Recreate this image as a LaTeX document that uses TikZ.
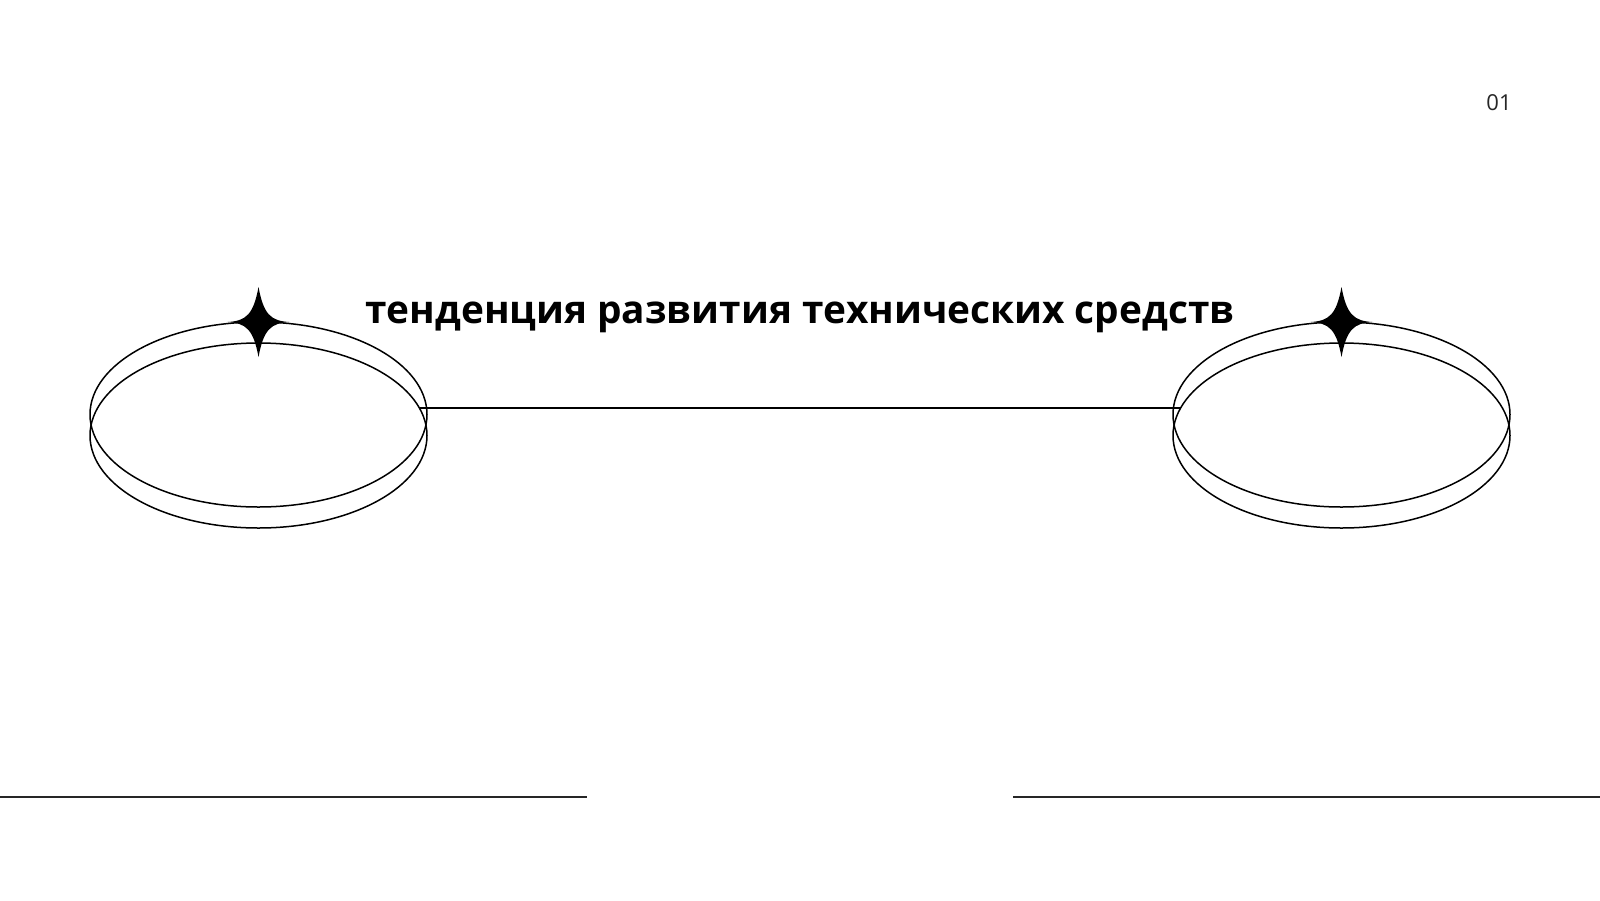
\documentclass[tikz,border=0pt]{standalone}
\usepackage{fontspec}
\setmainfont{Open Sans}
\begin{document}
\begin{tikzpicture}[x=1pt,y=-1pt,
  ring/.style={draw=black,line width=1.5pt},
  rule/.style={draw=black!85,line width=1.6pt},
  startip/.style={fill=black},
  title/.style={font=\fontsize{38.8}{46}\selectfont\bfseries,text=black,anchor=base,inner sep=0pt},
  pagenum/.style={font=\fontsize{22}{26}\selectfont,text=black!85,inner sep=0pt}]
\useasboundingbox[fill=white] (0,0) rectangle (1600,900);
% ellipses
\foreach \cx in {258.5,1341.5}{
  \draw[ring] (\cx,414.5) ellipse [x radius=168.5pt, y radius=92.5pt];
  \draw[ring] (\cx,435.5) ellipse [x radius=168.5pt, y radius=92.5pt];
  \fill[startip] (\cx,287) .. controls (\cx+5,314) and (\cx+12,321) .. (\cx+31,322)
     .. controls (\cx+12,323) and (\cx+5,330) .. (\cx,357)
     .. controls (\cx-5,330) and (\cx-12,323) .. (\cx-31,322)
     .. controls (\cx-12,321) and (\cx-5,314) .. (\cx,287) -- cycle;
}
\coordinate (la) at (419,408);
\coordinate (ra) at (1181,408);
\draw[ring] (la) -- (ra);
\node[title] (t) at (800,323) {тенденция развития технических средств};
\node[pagenum] (n) at (1499,103) {01};
\coordinate (b1) at (0,797);
\coordinate (b2) at (587,797);
\coordinate (b3) at (1013,797);
\coordinate (b4) at (1600,797);
\draw[rule] (b1) -- (b2);
\draw[rule] (b3) -- (b4);
\end{tikzpicture}
\end{document}
